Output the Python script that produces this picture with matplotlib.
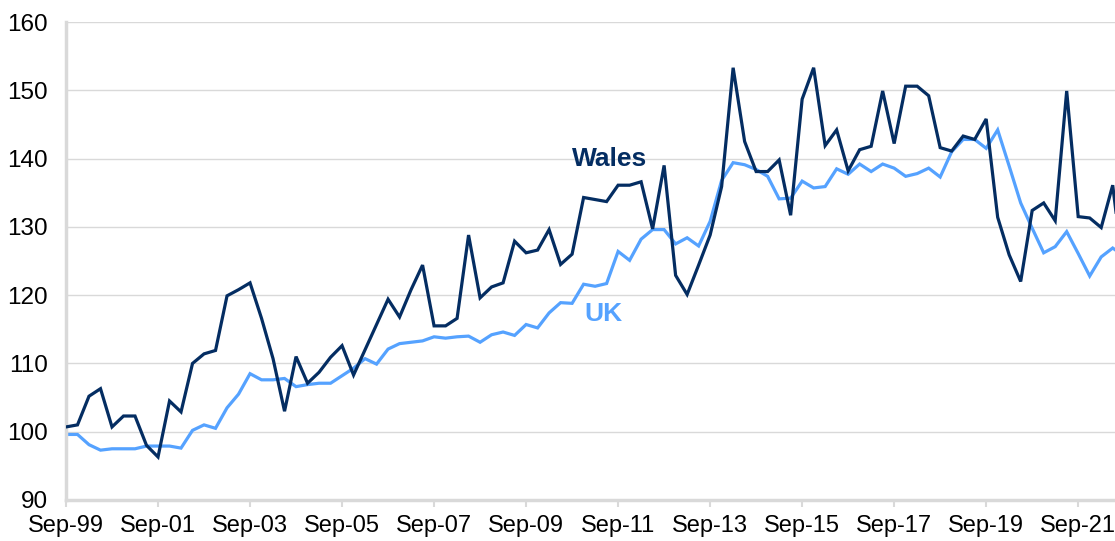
import numpy as np
import pandas as pd
import matplotlib

matplotlib.use("Agg")
import matplotlib.pyplot as plt

# Quarterly index, Sep-99 onwards (last point sits just past the right edge)
wales = [
    100.7, 101.0, 105.2, 106.3, 100.7, 102.3, 102.3, 98.0, 96.3, 104.5,
    102.9, 110.0, 111.4, 111.9, 119.9, 120.8, 121.8, 116.6, 110.7, 103.0,
    111.0, 107.1, 108.7, 110.9, 112.6, 108.3, 112.0, 115.7, 119.4, 116.8,
    120.8, 124.4, 115.5, 115.5, 116.6, 128.8, 119.6, 121.2, 121.8, 127.9,
    126.2, 126.6, 129.6, 124.5, 126.0, 134.3, 134.0, 133.7, 136.1, 136.1,
    136.6, 129.7, 139.0, 122.9, 120.1, 124.4, 128.8, 135.9, 153.3, 142.5,
    138.1, 138.1, 139.8, 131.7, 148.7, 153.3, 141.9, 144.2, 138.2, 141.3,
    141.8, 149.9, 142.2, 150.6, 150.6, 149.2, 141.6, 141.1, 143.3, 142.8,
    145.8, 131.4, 125.9, 122.0, 132.4, 133.5, 130.9, 149.9, 131.5, 131.3,
    129.9, 136.1, 122.3,
]
uk = [
    99.6, 99.6, 98.1, 97.3, 97.5, 97.5, 97.5, 97.9, 97.9, 97.9,
    97.6, 100.2, 101.0, 100.5, 103.5, 105.5, 108.5, 107.6, 107.6, 107.8,
    106.6, 106.9, 107.1, 107.1, 108.2, 109.3, 110.7, 109.9, 112.1, 112.9,
    113.1, 113.3, 113.9, 113.7, 113.9, 114.0, 113.1, 114.2, 114.6, 114.1,
    115.7, 115.2, 117.4, 118.9, 118.8, 121.6, 121.3, 121.7, 126.4, 125.1,
    128.2, 129.6, 129.6, 127.5, 128.4, 127.2, 130.8, 136.8, 139.4, 139.1,
    138.4, 137.4, 134.1, 134.2, 136.7, 135.7, 135.9, 138.5, 137.7, 139.2,
    138.1, 139.2, 138.6, 137.4, 137.8, 138.6, 137.3, 141.0, 142.8, 142.8,
    141.5, 144.2, 138.9, 133.5, 129.8, 126.2, 127.1, 129.3, 126.1, 122.8,
    125.6, 126.9, 125.7,
]
quarters = pd.date_range("1999-09-30", periods=len(wales), freq="QE-DEC")
tick_step = 8  # label every two years
y_ticks = [90, 100, 110, 120, 130, 140, 150, 160]

wales_colour = "#042D62"
uk_colour = "#55A2FF"
grey = "#D9D9D9"

plt.rcParams["font.family"] = ["Liberation Sans", "DejaVu Sans"]

fig = plt.figure(figsize=(11.15, 5.41), dpi=100)
ax = fig.add_axes([66 / 1115, 41 / 541, 1 - 66 / 1115, 478 / 541])

x = np.arange(len(wales))
ax.plot(x, wales, color=wales_colour, lw=2.3, solid_joinstyle="miter", zorder=3)
ax.plot(x, uk, color=uk_colour, lw=2.3, solid_joinstyle="miter", zorder=2)

ax.set_xlim(0, 91.2)
ax.set_ylim(90, 160)
ax.set_yticks(y_ticks)
ticks = x[::tick_step]
ax.set_xticks(ticks)
ax.set_xticklabels([quarters[i].strftime("%b-%y") for i in ticks])

ax.grid(axis="y", color=grey, lw=1.0)
ax.set_axisbelow(True)
for side in ["top", "right"]:
    ax.spines[side].set_visible(False)
for side in ["left", "bottom"]:
    ax.spines[side].set_color(grey)
    ax.spines[side].set_linewidth(2.5)

ax.tick_params(axis="y", length=0, pad=13, labelsize=17.5)
ax.tick_params(axis="x", length=5, width=1.5, color=grey, pad=6, labelsize=17)

ax.text(47.3, 140.0, "Wales", color=wales_colour, fontsize=19,
        fontweight="bold", ha="center", va="center")
ax.text(46.7, 117.3, "UK", color=uk_colour, fontsize=19,
        fontweight="bold", ha="center", va="center")

fig.savefig("out.png", dpi=100)
